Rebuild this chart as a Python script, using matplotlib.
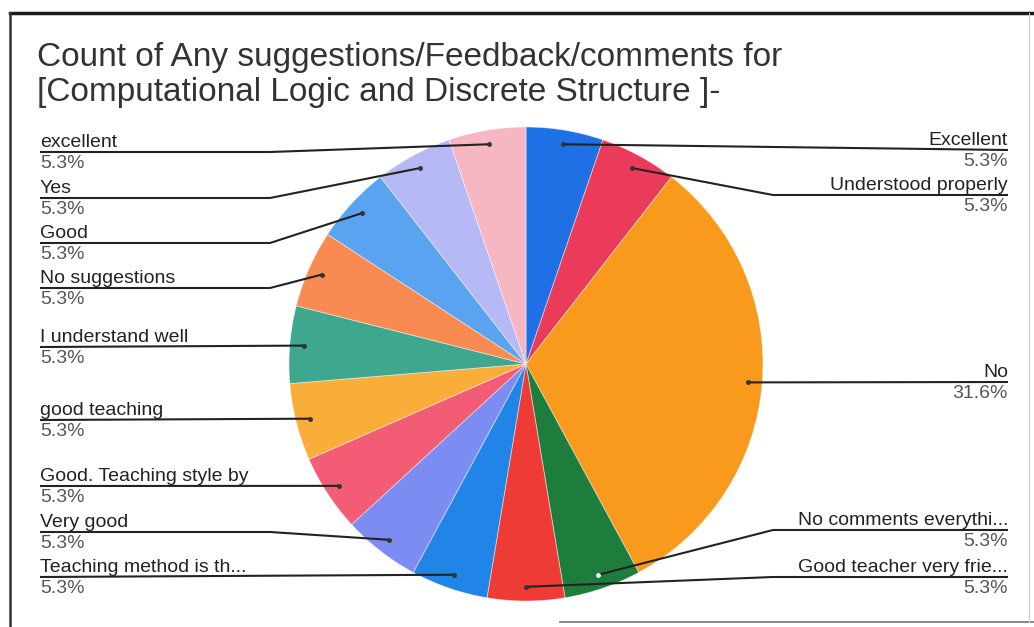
import numpy as np
import matplotlib
matplotlib.use("Agg")
import matplotlib.pyplot as plt

### données du graphique
labels = ["Excellent", "Understood properly", "No", "No comments everythi...",
          "Good teacher very frie...", "Teaching method is th...", "Very good",
          "Good. Teaching style by", "good teaching", "I understand well",
          "No suggestions", "Good", "Yes", "excellent"]
counts = [1, 1, 6, 1, 1, 1, 1, 1, 1, 1, 1, 1, 1, 1]
colors = ["#1f6fe5", "#ea3c5a", "#f99a1c", "#1e7d3c", "#ef3b36", "#2185e8",
          "#7d8cf2", "#f25c74", "#f9ae3a", "#3fa78e", "#f98b52", "#5aa3f0",
          "#b7b8f6", "#f6b6c2"]
title = ("Count of Any suggestions/Feedback/comments for\n"
         "[Computational Logic and Discrete Structure ]-")

W, H = 1034, 627
plt.rcParams['font.family'] = ['Liberation Sans', 'DejaVu Sans']

fig = plt.figure(figsize=(W / 100, H / 100), dpi=100)
ax = fig.add_axes([0, 0, 1, 1])

# repère en pixels, y vers le haut -> conversion depuis le haut de l'image
Y = lambda y: H - y

cx, cy, r = 526, 364, 237
wedges, _ = ax.pie(counts, colors=colors, startangle=90, counterclock=False,
                   center=(cx, Y(cy)), radius=r,
                   wedgeprops=dict(linewidth=0.6, edgecolor="#ffffff80"))
ax.set_xlim(0, W)
ax.set_ylim(0, H)
ax.set_aspect('auto')
ax.axis('off')

pct = [100 * c / sum(counts) for c in counts]

# points d'ancrage des étiquettes (milieu de chaque part)
anchors = []
for w in wedges:
    th = np.radians((w.theta1 + w.theta2) / 2)
    anchors.append((cx + 0.94 * r * np.cos(th), Y(cy) + 0.94 * r * np.sin(th)))

# position verticale (ligne de soulignement) de chaque étiquette, en pixels
right_side = {0: 150, 1: 195, 2: 382, 3: 530, 4: 577}
left_side = {13: 152, 12: 198, 11: 243, 10: 288, 9: 347,
             8: 420, 7: 486, 6: 532, 5: 577}

txt_kw = dict(fontsize=14, color="#222222")
pct_kw = dict(fontsize=14, color="#555555")
line_kw = dict(color="#222222", lw=1.5, solid_capstyle='butt')


def leader(i, x0, yl, xbend):
    ax_, ay_ = anchors[i]
    yl = Y(yl)
    if abs(ay_ - yl) > 6:
        xs, ys = [x0, xbend, ax_], [yl, yl, ay_]
    else:
        xs, ys = [x0, ax_], [yl, ay_]
    ax.plot(xs, ys, **line_kw)
    lum = np.mean(matplotlib.colors.to_rgb(colors[i]))
    ax.plot(ax_, ay_, 'o', ms=2.5, color="#f4f4f4" if lum < 0.45 else "#333333")


for i, yl in right_side.items():
    leader(i, 1008, yl, 773)
    ax.text(1008, Y(yl - 5), labels[i], ha='right', va='baseline', **txt_kw)
    ax.text(1008, Y(yl + 3), f"{pct[i]:.1f}%", ha='right', va='top', **pct_kw)

for i, yl in left_side.items():
    leader(i, 40, yl, 270)
    ax.text(40, Y(yl - 5), labels[i], ha='left', va='baseline', **txt_kw)
    ax.text(40, Y(yl + 3), f"{pct[i]:.1f}%", ha='left', va='top', **pct_kw)

# titre
ax.text(37, Y(42), title, ha='left', va='top', fontsize=24, color="#333333",
        linespacing=1.18)

# cadre scanné
ax.plot([10, W], [Y(13), Y(13)], color="#1a1a1a", lw=2.5)
ax.plot([10, 10], [Y(13), 0], color="#333333", lw=1.8)
ax.plot([560, W], [Y(622), Y(622)], color="#777777", lw=1.2)
ax.plot([1029, 1029], [Y(13), Y(622)], color="#cccccc", lw=0.8)

fig.savefig("out.png", dpi=100)
